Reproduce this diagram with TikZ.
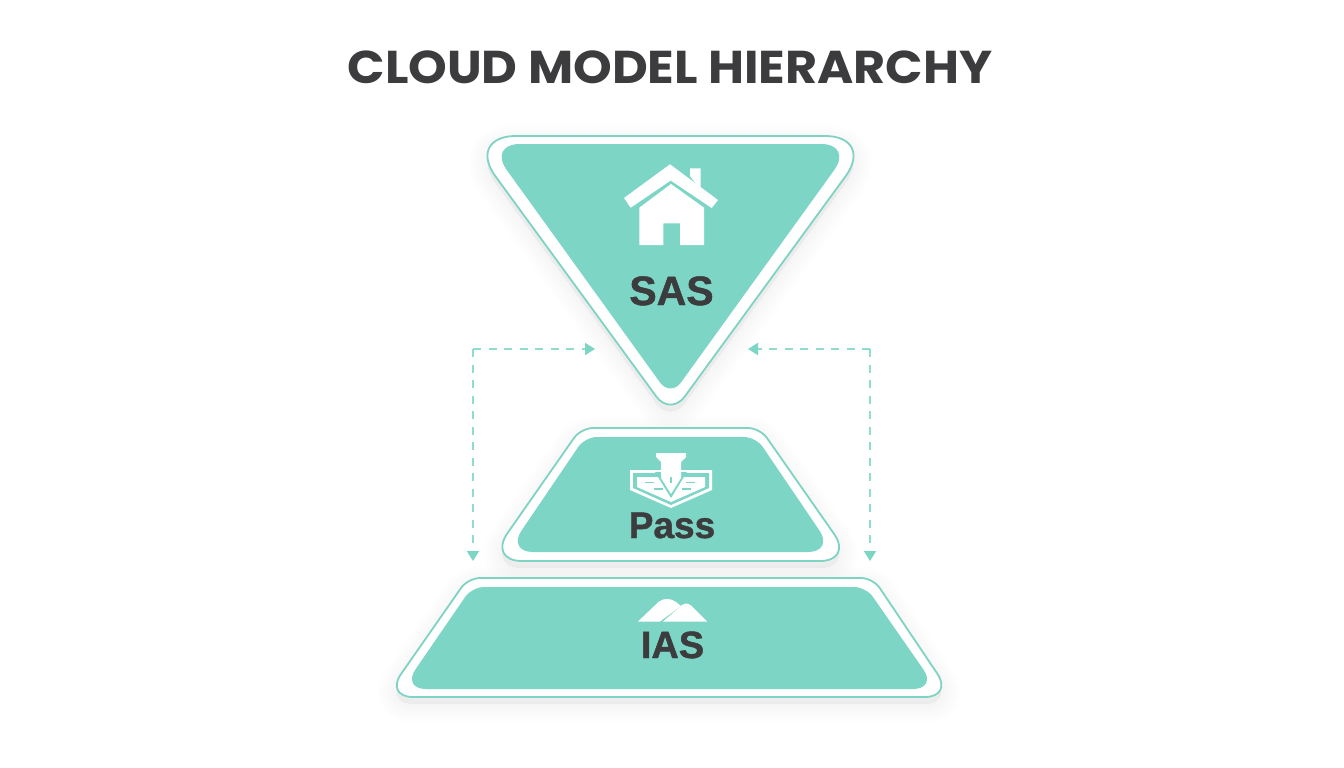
\documentclass[tikz,border=0pt]{standalone}
\usepackage{fontspec}
\setmainfont{Liberation Sans}
\newfontfamily\titlefont{Poppins}[Scale=1]
\newfontfamily\labelfont{Liberation Sans}[BoldFeatures={FakeBold=1.2}]
\usetikzlibrary{arrows.meta}
\definecolor{teal}{HTML}{7DD6C5}
\definecolor{edge}{HTML}{7FD3C2}
\definecolor{dashc}{HTML}{8FDDCD}
\definecolor{ink}{HTML}{3C3C3E}
\newcommand\triOuter{(670,136) [rounded corners=50pt] -- (875,136) [rounded corners=24pt] -- (670.5,416) [rounded corners=50pt] -- (466,136) [sharp corners] -- cycle}
\newcommand\triInner{(670,144) [rounded corners=32pt] -- (853,144) [rounded corners=18pt] -- (670.5,397) [rounded corners=32pt] -- (488,144) [sharp corners] -- cycle}
\newcommand\pasOuter{(670,428) [rounded corners=12pt] -- (760,428) [rounded corners=33pt] -- (853,561) [rounded corners=34pt] -- (488,561) [rounded corners=12pt] -- (581,428) [sharp corners] -- cycle}
\newcommand\pasInner{(670,437) [rounded corners=12pt] -- (756,437) [rounded corners=26pt] -- (834,552) [rounded corners=26pt] -- (507,552) [rounded corners=12pt] -- (585,437) [sharp corners] -- cycle}
\newcommand\iasOuter{(670,578) [rounded corners=12pt] -- (873,578) [rounded corners=28pt] -- (953,697) [rounded corners=28pt] -- (385,697) [rounded corners=12pt] -- (468,578) [sharp corners] -- cycle}
\newcommand\iasInner{(670,587) [rounded corners=12pt] -- (866,587) [rounded corners=24pt] -- (937,689) [rounded corners=24pt] -- (402,689) [rounded corners=12pt] -- (472,587) [sharp corners] -- cycle}
\newcommand\softshadow[1]{%
  \foreach \w in {2,6,...,38}{%
    \path[draw=black,fill=black,opacity=.0035,line width=\w pt,line join=round,yshift=-7pt] #1;%
  }%
}
\tikzset{
  x=1pt,y=-1pt,
  outerplate/.style={draw=edge,line width=1.8pt,fill=white},
  innerplate/.style={fill=teal},
  glyph/.style={fill=white,draw=none},
  cut/.style={fill=teal,draw=none},
  label/.style={text=ink,inner sep=0pt,anchor=base},
  link/.style={draw=dashc,line width=1.8pt,dash pattern=on 8pt off 7.5pt,
    arrows={-Triangle[length=10pt,width=12pt,fill=teal,color=teal]}},
}
\begin{document}
\begin{tikzpicture}
\useasboundingbox (0,0) rectangle (1344,768);
\fill[white] (0,0) rectangle (1344,768);

% soft shadows
\softshadow{\triOuter}
\softshadow{\pasOuter}
\softshadow{\iasOuter}

% plates
\path[outerplate] \triOuter;
\path[innerplate] \triInner;
\path[outerplate] \pasOuter;
\path[innerplate] \pasInner;
\path[outerplate] \iasOuter;
\path[innerplate] \iasInner;

% title
\node[inner sep=0pt,anchor=base,text=ink,xscale=1.07] (title) at (670,84)
  {\titlefont\fontsize{46}{50}\selectfont\bfseries CLOUD MODEL HIERARCHY};

% house icon
\fill[glyph] (690,176) -- (690,168.3) -- (700.7,168.3) -- (700.7,190) -- cycle;
\fill[glyph] (670,164.3) -- (718,200) -- (711.7,208) -- (670.7,180.5) -- (630.7,207.7) -- (624,198) -- cycle;
\fill[glyph] (671,184) -- (704,207.7) -- (704,245) -- (680,245) -- (680,223.3) -- (663.3,223.3) -- (663.3,245) -- (639.3,245) -- (639.3,207.7) -- cycle;

% pen-and-shield icon
\fill[glyph] (630,470) -- (712,470) -- (712,490) -- (671,508) -- (630,490) -- cycle;
\fill[cut] (633,473) -- (709,473) -- (709,488) -- (671,505) -- (633,488) -- cycle;
\fill[glyph] (637,477) -- (705,477) -- (705,487) -- (671,502) -- (637,487) -- cycle;
\fill[cut] (655,472) -- (687,472) -- (671,498) -- cycle;
\fill[glyph] (656,453) -- (686,453) -- (686,457) -- (681,462) -- (681,478) -- (671,494) -- (661,478) -- (661,462) -- (656,457) -- cycle;
\fill[cut] (670,477) rectangle (671.5,483);
\fill[cut] (645,481.5) rectangle (654,483);
\fill[cut] (686,481.5) rectangle (695,483);
\fill[cut] (654,488) rectangle (663,489.5);
\fill[cut] (682,488) rectangle (691,489.5);

% mountains icon
\fill[glyph] (638,621.5) -- (659,601.5) .. controls (664,598) and (671,598) .. (676,602) -- (681,606) -- (660,621.5) -- cycle;
\fill[glyph] (663,621.5) -- (682,605) .. controls (685,603) and (688,603) .. (691,605.5) -- (707,621.5) -- cycle;

% labels
\node[label,font=\labelfont\bfseries\fontsize{41}{44}\selectfont] (sas) at (671.5,305) {SAS};
\node[label,font=\labelfont\bfseries\fontsize{37}{40}\selectfont] (pass) at (672,538) {Pass};
\node[label,font=\labelfont\bfseries\fontsize{38}{40}\selectfont] (ias) at (672.5,658) {IAS};

% connectors
\coordinate (lefthead) at (595,349);
\coordinate (leftfoot) at (473,561);
\coordinate (leftbend) at (473,349);
\coordinate (righthead) at (748,349);
\coordinate (rightfoot) at (870,561);
\coordinate (rightbend) at (870,349);
\draw[link] (leftbend) -- (lefthead);
\draw[link] (leftbend) -- (leftfoot);
\draw[link] (rightbend) -- (righthead);
\draw[link] (rightbend) -- (rightfoot);
\end{tikzpicture}
\end{document}
